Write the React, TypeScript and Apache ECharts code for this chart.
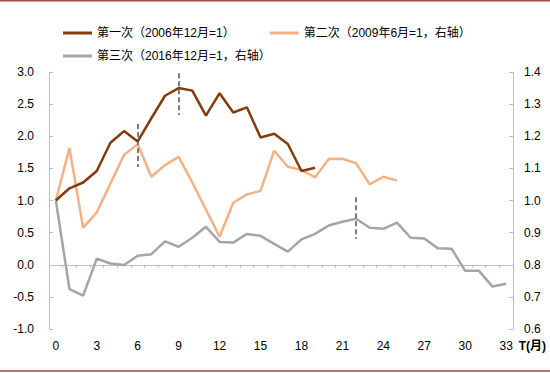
import React, { useEffect, useRef } from "react";
import * as echarts from "echarts";

const months: string[] = Array.from({ length: 34 }, (_, i) => String(i));

const firstName = "第一次（2006年12月=1）";
const secondName = "第二次（2009年6月=1，右轴）";
const thirdName = "第三次（2016年12月=1，右轴）";

// left axis
const firstValues: number[] = [
  1.0, 1.19, 1.28, 1.46, 1.9, 2.08, 1.92, 2.28, 2.63, 2.75, 2.71, 2.32, 2.67, 2.37,
  2.45, 1.98, 2.04, 1.88, 1.46, 1.51,
];
// right axis
const secondValues: number[] = [
  1.0, 1.163, 0.915, 0.963, 1.053, 1.142, 1.175, 1.074, 1.11, 1.136, 1.056, 0.972,
  0.887, 0.993, 1.019, 1.03, 1.155, 1.105, 1.095, 1.072, 1.129, 1.13, 1.116, 1.05,
  1.074, 1.062,
];
// right axis
const thirdValues: number[] = [
  1.0, 0.724, 0.704, 0.819, 0.804, 0.799, 0.828, 0.833, 0.873, 0.856, 0.884, 0.918,
  0.871, 0.869, 0.896, 0.89, 0.865, 0.841, 0.879, 0.896, 0.922, 0.934, 0.943, 0.915,
  0.912, 0.931, 0.884, 0.882, 0.851, 0.85, 0.781, 0.781, 0.732, 0.741,
];

// dashed markers: [month, from, to] in left-axis units
const markers: [number, number, number][] = [
  [6, 2.19, 1.52],
  [9, 2.98, 2.33],
  [22, 1.05, 0.4],
];

const FONT = '"Liberation Sans", Arial, "Noto Sans CJK SC", sans-serif';
const AXIS_COLOR = "#bfbfbf";

export default function App() {
  const ref = useRef<HTMLDivElement>(null);
  useEffect(() => {
    if (!ref.current) return;
    const chart = echarts.init(ref.current, undefined, { renderer: "svg" });
    const legendText = { fontSize: 12, color: "#000", fontFamily: FONT };
    chart.setOption({
      animation: false,
      textStyle: { fontFamily: FONT },
      legend: [
        {
          data: [firstName, secondName],
          left: 58,
          top: 22,
          itemGap: 35,
          icon: "rect",
          itemWidth: 29,
          itemHeight: 3,
          textStyle: legendText,
        },
        {
          data: [thirdName],
          left: 58,
          top: 45,
          icon: "rect",
          itemWidth: 29,
          itemHeight: 3,
          textStyle: legendText,
        },
      ],
      grid: { left: 49, right: 37, top: 72, bottom: 44 },
      xAxis: [
        {
          type: "category",
          data: months,
          position: "bottom",
          boundaryGap: true,
          axisLine: { show: false, onZero: false },
          axisTick: { show: false },
          axisLabel: { interval: 2, margin: 11, fontSize: 12, color: "#000", fontFamily: FONT },
          name: "T(月)",
          nameLocation: "end",
          nameGap: 1,
          nameTextStyle: {
            fontSize: 12,
            fontWeight: "bold",
            color: "#000",
            fontFamily: FONT,
            verticalAlign: "top",
            padding: [11, 0, 0, 0],
          },
          splitLine: { show: false },
        },
        {
          type: "category",
          data: months,
          boundaryGap: true,
          axisLine: { show: true, onZero: true, onZeroAxisIndex: 0, lineStyle: { color: AXIS_COLOR, width: 1 } },
          axisTick: { show: true, inside: true, length: 3, interval: 0, lineStyle: { color: AXIS_COLOR } },
          axisLabel: { show: false },
          splitLine: { show: false },
        },
      ],
      yAxis: [
        {
          type: "value",
          min: -1,
          max: 3,
          interval: 0.5,
          axisLine: { show: true, lineStyle: { color: AXIS_COLOR, width: 1 } },
          axisTick: { show: true, inside: true, length: 4, lineStyle: { color: AXIS_COLOR } },
          axisLabel: {
            margin: 15,
            fontSize: 12,
            color: "#000",
            fontFamily: FONT,
            formatter: (v: number) => v.toFixed(1),
          },
          splitLine: { show: false },
        },
        {
          type: "value",
          position: "right",
          min: 0.6,
          max: 1.4,
          interval: 0.1,
          axisLine: { show: true, lineStyle: { color: AXIS_COLOR, width: 1 } },
          axisTick: { show: true, inside: true, length: 4, lineStyle: { color: AXIS_COLOR } },
          axisLabel: {
            margin: 11,
            fontSize: 12,
            color: "#000",
            fontFamily: FONT,
            formatter: (v: number) => v.toFixed(1),
          },
          splitLine: { show: false },
        },
      ],
      series: [
        {
          name: firstName,
          type: "line",
          xAxisIndex: 0,
          yAxisIndex: 0,
          data: firstValues,
          symbol: "none",
          color: "#843c0c",
          lineStyle: { width: 2.5, color: "#843c0c" },
          z: 4,
          markLine: {
            silent: true,
            symbol: "none",
            label: { show: false },
            lineStyle: { type: [5, 3], width: 1.5, color: "#44546a" },
            data: markers.map(([m, a, b]) => [{ coord: [m, a] }, { coord: [m, b] }]),
          },
        },
        {
          name: secondName,
          type: "line",
          xAxisIndex: 0,
          yAxisIndex: 1,
          data: secondValues,
          symbol: "none",
          color: "#f4b183",
          lineStyle: { width: 2.5, color: "#f4b183" },
          z: 3,
        },
        {
          name: thirdName,
          type: "line",
          xAxisIndex: 0,
          yAxisIndex: 1,
          data: thirdValues,
          symbol: "none",
          color: "#a5a5a5",
          lineStyle: { width: 2.5, color: "#a5a5a5" },
          z: 2,
        },
      ],
      graphic: [
        {
          type: "line",
          shape: { x1: 0, y1: 0.75, x2: 550, y2: 0.75 },
          style: { stroke: "#9e4a4a", lineWidth: 1.5 },
        },
        {
          type: "line",
          shape: { x1: 0, y1: 371, x2: 550, y2: 371 },
          style: { stroke: "#9e4a4a", lineWidth: 1.5 },
        },
      ],
    });
    return () => chart.dispose();
  }, []);
  return (
    <div
      ref={ref}
      style={{ position: "fixed", left: 0, top: 0, width: 550, height: 373, background: "#fff" }}
    />
  );
}
